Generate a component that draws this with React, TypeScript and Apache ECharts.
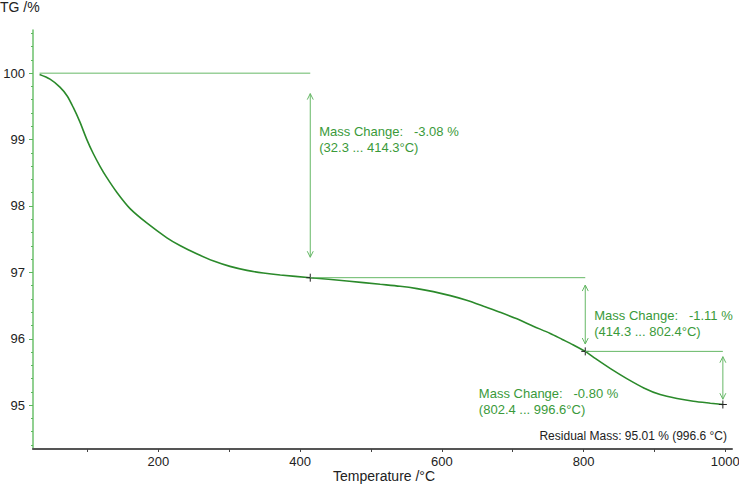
import { useEffect, useRef } from "react";
import * as echarts from "echarts";

// TG curve: temperature (°C) and remaining mass (%)
const tempC = [
  32.3, 47, 61, 71, 80, 89, 99, 108, 118, 127, 141, 160, 184, 212, 231, 254, 278, 301, 325, 348, 372,
  414.3, 466, 513, 541, 565, 588, 612, 635, 659, 682, 706, 729, 753, 770, 785, 802.4, 817, 838, 861,
  885, 908, 932, 955, 979, 996.6,
];
const tgPercent = [
  99.98, 99.91, 99.79, 99.66, 99.48, 99.27, 99.0, 98.79, 98.59, 98.43, 98.21, 97.96, 97.74, 97.52,
  97.4, 97.28, 97.17, 97.09, 97.03, 96.99, 96.96, 96.92, 96.87, 96.82, 96.79, 96.755, 96.71, 96.65,
  96.58, 96.49, 96.4, 96.3, 96.19, 96.08, 95.99, 95.91, 95.81, 95.7, 95.55, 95.4, 95.26, 95.16,
  95.1, 95.06, 95.03, 95.01,
];

// Mass-change steps
const stepStart = [32.3, 414.3, 802.4];
const stepEnd = [414.3, 802.4, 996.6];
const stepFrom = [100.0, 96.92, 95.81];
const massChange = [-3.08, -1.11, -0.8];

const residualMass = 95.01;
const residualTemp = 996.6;

// Axis ticks and labels
const xLabelValues = [200, 400, 600, 800, 1000];
const xTickValues = [100, 200, 300, 400, 500, 600, 700, 800, 900, 1000];
const yLabelValues = [95, 96, 97, 98, 99, 100];
const yMinorTickValues = [
  94.4, 94.6, 94.8, 95.0, 95.2, 95.4, 95.6, 95.8, 96.0, 96.2, 96.4, 96.6, 96.8, 97.0, 97.2, 97.4, 97.6,
  97.8, 98.0, 98.2, 98.4, 98.6, 98.8, 99.0, 99.2, 99.4, 99.6, 99.8, 100.0, 100.2, 100.4, 100.6,
];

const FONT = '"Liberation Sans", Arial, Helvetica, sans-serif';
const CURVE = "#2b8a2b";
const GUIDE = "#66b866";
const NOTE = "#3a9a3a";
const INK = "#222";

// Label offsets (px) relative to the step's arrow / reference line
const labelDx = [9, 9, -244];
const labelDy = [58, 38, 42];

export default function App() {
  const ref = useRef<HTMLDivElement>(null);

  useEffect(() => {
    document.body.style.margin = "0";
    if (!ref.current) return;
    const chart = echarts.init(ref.current, undefined, { renderer: "svg" });

    const steps = stepStart.map((s, i) => [s, stepEnd[i], stepFrom[i], massChange[i]]);

    const renderStep = (params: any, api: any) => {
      const i = params.dataIndex;
      const t0 = api.value(0);
      const t1 = api.value(1);
      const v0 = api.value(2);
      const dv = api.value(3);
      const a = api.coord([t0, v0]);
      const b = api.coord([t1, v0]);
      const c = api.coord([t1, v0 + dv]);
      const len = c[1] - b[1];
      const top = b[1] + len * 0.1;
      const bot = c[1] - len * 0.1;
      const x = b[0];
      const lineStyle = { stroke: GUIDE, lineWidth: 1, fill: "none" };
      const tx = x + labelDx[i];
      const ty = b[1] + labelDy[i];
      return {
        type: "group",
        children: [
          { type: "line", shape: { x1: a[0], y1: a[1], x2: b[0], y2: b[1] }, style: lineStyle },
          { type: "line", shape: { x1: x, y1: top, x2: x, y2: bot }, style: lineStyle },
          { type: "polyline", shape: { points: [[x - 3, top + 6], [x, top], [x + 3, top + 6]] }, style: lineStyle },
          { type: "polyline", shape: { points: [[x - 3, bot - 6], [x, bot], [x + 3, bot - 6]] }, style: lineStyle },
          { type: "line", shape: { x1: c[0] - 4, y1: c[1], x2: c[0] + 4, y2: c[1] }, style: { stroke: INK, lineWidth: 1 } },
          { type: "line", shape: { x1: c[0], y1: c[1] - 4, x2: c[0], y2: c[1] + 4 }, style: { stroke: INK, lineWidth: 1 } },
          {
            type: "text",
            style: {
              x: tx,
              y: ty,
              text: `Mass Change:   ${dv.toFixed(2)} %`,
              fill: NOTE,
              font: `13px ${FONT}`,
              textAlign: "left",
              textVerticalAlign: "middle",
            },
          },
          {
            type: "text",
            style: {
              x: tx,
              y: ty + 16,
              text: `(${t0.toFixed(1)} ... ${t1.toFixed(1)}°C)`,
              fill: NOTE,
              font: `13px ${FONT}`,
              textAlign: "left",
              textVerticalAlign: "middle",
            },
          },
        ],
      };
    };

    chart.setOption({
      animation: false,
      textStyle: { fontFamily: FONT },
      grid: { left: 33, right: 7, top: 30, bottom: 36, outerBoundsMode: "none", containLabel: false },
      xAxis: {
        type: "value",
        min: 23,
        max: 1009.5,
        axisLine: { show: true, onZero: false, lineStyle: { color: "#555", width: 2 } },
        axisTick: { show: true, customValues: xTickValues, length: 3, lineStyle: { color: "#444" } },
        axisLabel: {
          customValues: xLabelValues,
          formatter: (v: number) => String(v),
          color: INK,
          fontSize: 13,
          margin: 6,
          fontFamily: FONT,
        },
        splitLine: { show: false },
      },
      yAxis: [
        {
          type: "value",
          min: 94.34,
          max: 100.65,
          axisLine: { show: true, onZero: false, lineStyle: { color: "#6cc06c", width: 1.5 } },
          axisTick: { show: true, customValues: yLabelValues, length: 4, lineStyle: { color: "#5cb85c" } },
          axisLabel: {
            customValues: yLabelValues,
            formatter: (v: number) => String(v),
            color: INK,
            fontSize: 13,
            margin: 8,
            fontFamily: FONT,
          },
          splitLine: { show: false },
        },
        {
          type: "value",
          min: 94.34,
          max: 100.65,
          position: "left",
          axisLine: { show: false },
          axisTick: { show: true, customValues: yMinorTickValues, length: 2, lineStyle: { color: "#5cb85c" } },
          axisLabel: { show: false },
          splitLine: { show: false },
        },
      ],
      graphic: [
        { type: "text", left: 0, top: 0, style: { text: "TG /%", fill: INK, font: `14px ${FONT}` } },
        { type: "text", left: 333, top: 469, style: { text: "Temperature /°C", fill: INK, font: `14px ${FONT}` } },
        {
          type: "text",
          right: 12,
          top: 430,
          style: {
            text: `Residual Mass: ${residualMass.toFixed(2)} % (${residualTemp.toFixed(1)} °C)`,
            fill: INK,
            font: `12px ${FONT}`,
          },
        },
      ],
      series: [
        {
          type: "line",
          data: tempC.map((t, i) => [t, tgPercent[i]]),
          showSymbol: false,
          smooth: 0.3,
          lineStyle: { color: CURVE, width: 1.6 },
          z: 3,
        },
        {
          type: "custom",
          data: steps,
          renderItem: renderStep,
          encode: { x: [0, 1], y: [2] },
          clip: false,
          z: 4,
        },
      ],
    });

    return () => chart.dispose();
  }, []);

  return <div ref={ref} style={{ width: 739, height: 485 }} />;
}
